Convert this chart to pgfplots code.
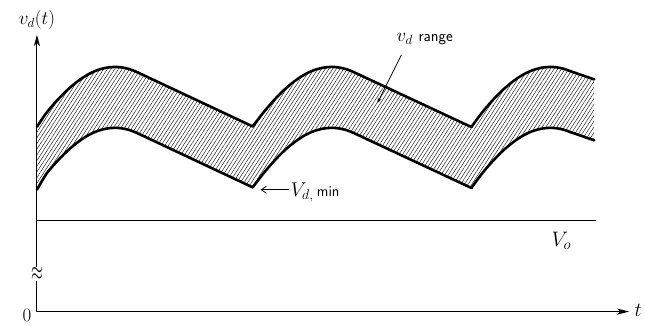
\RequirePackage{fix-cm}
\documentclass[border=0pt]{standalone}
\usepackage{fontspec}
\usepackage{pgfplots}
\pgfplotsset{compat=1.18}
\usetikzlibrary{arrows.meta,patterns.meta}

\begin{document}
\begin{tikzpicture}
\begin{axis}[
  x=1pt, y=1pt,
  xmin=37, xmax=630, ymin=11, ymax=288,
  axis lines=left,
  axis line style={line width=1pt},
  x axis line style={-{Stealth[length=12pt,width=6pt,inset=3pt]}},
  y axis line style={-{Stealth[length=11pt,width=6pt,inset=3pt]}},
  xtick=\empty, ytick=\empty,
  clip=false,
]
% full canvas
\path (axis cs:0,0) rectangle (axis cs:645,323);

% hatched band (upper forward, lower backward)
\addplot[draw=none, pattern={Lines[angle=57,distance=3.1pt,line width=0.4pt]}, pattern color=black] coordinates {
(37,196) (46.5,210.0) (56.5,221.7) (66.5,232.0) (76.5,240.6) (86.5,247.5) (96.5,252.4) (106.5,255.2) (115,256.0) (121.5,255.55) (128.5,254.1) (135.5,251.6)
(253,196.4) (263.5,210.0) (273.5,221.7) (283.5,232.0) (293.5,240.6) (303.5,247.5) (313.5,252.4) (323.5,255.2) (332,256.0) (338.5,255.55) (345.5,254.1) (352.5,251.6)
(472,195.8) (482.5,210.0) (492.5,221.7) (502.5,232.0) (512.5,240.6) (522.5,247.5) (532.5,252.4) (542.5,255.2) (551,256.0) (557.5,255.55) (564.5,254.1) (571.5,251.6) (595,243.5)
(595,182.5) (571.5,190.6) (564.5,193.1) (557.5,194.55) (551,195.0) (542.5,194.2) (532.5,191.4) (522.5,186.5) (512.5,179.6) (502.5,171.0) (492.5,160.7) (482.5,149.0) (472,134.8)
(352.5,190.6) (345.5,193.1) (338.5,194.55) (332,195.0) (323.5,194.2) (313.5,191.4) (303.5,186.5) (293.5,179.6) (283.5,171.0) (273.5,160.7) (263.5,149.0) (253,135.4)
(135.5,190.6) (128.5,193.1) (121.5,194.55) (115,195.0) (106.5,194.2) (96.5,191.4) (86.5,186.5) (76.5,179.6) (66.5,171.0) (56.5,160.7) (46.5,149.0) (37,133)
(37,196)
};

% V_o level
\addplot[line width=1.1pt] coordinates {(37,102) (597,102)};

% upper boundary
\addplot[line width=2.6pt, line cap=round, line join=round, smooth] coordinates {
(37,196) (46.5,210.0) (56.5,221.7) (66.5,232.0) (76.5,240.6) (86.5,247.5) (96.5,252.4) (106.5,255.2) (115,256.0) (121.5,255.55) (128.5,254.1) (135.5,251.6)};
\addplot[line width=2.6pt, line cap=round, line join=round] coordinates {(135.5,251.6) (253,196.4)};
\addplot[line width=2.6pt, line cap=round, line join=round, smooth] coordinates {
(253,196.4) (263.5,210.0) (273.5,221.7) (283.5,232.0) (293.5,240.6) (303.5,247.5) (313.5,252.4) (323.5,255.2) (332,256.0) (338.5,255.55) (345.5,254.1) (352.5,251.6)};
\addplot[line width=2.6pt, line cap=round, line join=round] coordinates {(352.5,251.6) (472,195.8)};
\addplot[line width=2.6pt, line cap=round, line join=round, smooth] coordinates {
(472,195.8) (482.5,210.0) (492.5,221.7) (502.5,232.0) (512.5,240.6) (522.5,247.5) (532.5,252.4) (542.5,255.2) (551,256.0) (557.5,255.55) (564.5,254.1) (571.5,251.6)};
\addplot[line width=2.6pt, line cap=round, line join=round] coordinates {(571.5,251.6) (595,243.5)};

% lower boundary
\addplot[line width=2.6pt, line cap=round, line join=round, smooth] coordinates {
(37,133) (46.5,149.0) (56.5,160.7) (66.5,171.0) (76.5,179.6) (86.5,186.5) (96.5,191.4) (106.5,194.2) (115,195.0) (121.5,194.55) (128.5,193.1) (135.5,190.6)};
\addplot[line width=2.6pt, line cap=round, line join=round] coordinates {(135.5,190.6) (253,135.4)};
\addplot[line width=2.6pt, line cap=round, line join=round, smooth] coordinates {
(253,135.4) (263.5,149.0) (273.5,160.7) (283.5,171.0) (293.5,179.6) (303.5,186.5) (313.5,191.4) (323.5,194.2) (332,195.0) (338.5,194.55) (345.5,193.1) (352.5,190.6)};
\addplot[line width=2.6pt, line cap=round, line join=round] coordinates {(352.5,190.6) (472,134.8)};
\addplot[line width=2.6pt, line cap=round, line join=round, smooth] coordinates {
(472,134.8) (482.5,149.0) (492.5,160.7) (502.5,171.0) (512.5,179.6) (522.5,186.5) (532.5,191.4) (542.5,194.2) (551,195.0) (557.5,194.55) (564.5,193.1) (571.5,190.6)};
\addplot[line width=2.6pt, line cap=round, line join=round] coordinates {(571.5,190.6) (595,182.5)};

% axis break
\node[fill=white, inner sep=0.4pt, xscale=0.85, yscale=1.5, font=\fontsize{18}{20}\selectfont] at (axis cs:37,49) {$\approx$};

% labels
\node[font=\fontsize{19}{22}\selectfont] at (axis cs:27,7) {0};
\node[font=\fontsize{19}{22}\selectfont] at (axis cs:37,303) {$v_d(t)$};
\node[font=\fontsize{20}{22}\selectfont] at (axis cs:639,12) {$t$};
\node[font=\fontsize{21}{24}\selectfont] at (axis cs:562,82) {$V_o$};
\node[anchor=base west, inner sep=0pt, font=\fontsize{20}{22}\selectfont] at (axis cs:291,126) {$V_{d,}$\,{\sffamily\fontsize{15}{17}\selectfont min}};
\draw[line width=0.8pt, -{Straight Barb[length=5pt,width=7pt]}] (axis cs:289,133) -- (axis cs:261,133);
\node[anchor=base west, inner sep=0pt, font=\fontsize{19}{22}\selectfont] at (axis cs:397,281) {$v_d$ {\sffamily\fontsize{16}{19}\selectfont range}};
\draw[line width=0.8pt, -{Stealth[length=5pt,width=4pt]}] (axis cs:402,268) -- (axis cs:378,220);
\end{axis}
\end{tikzpicture}
\end{document}
